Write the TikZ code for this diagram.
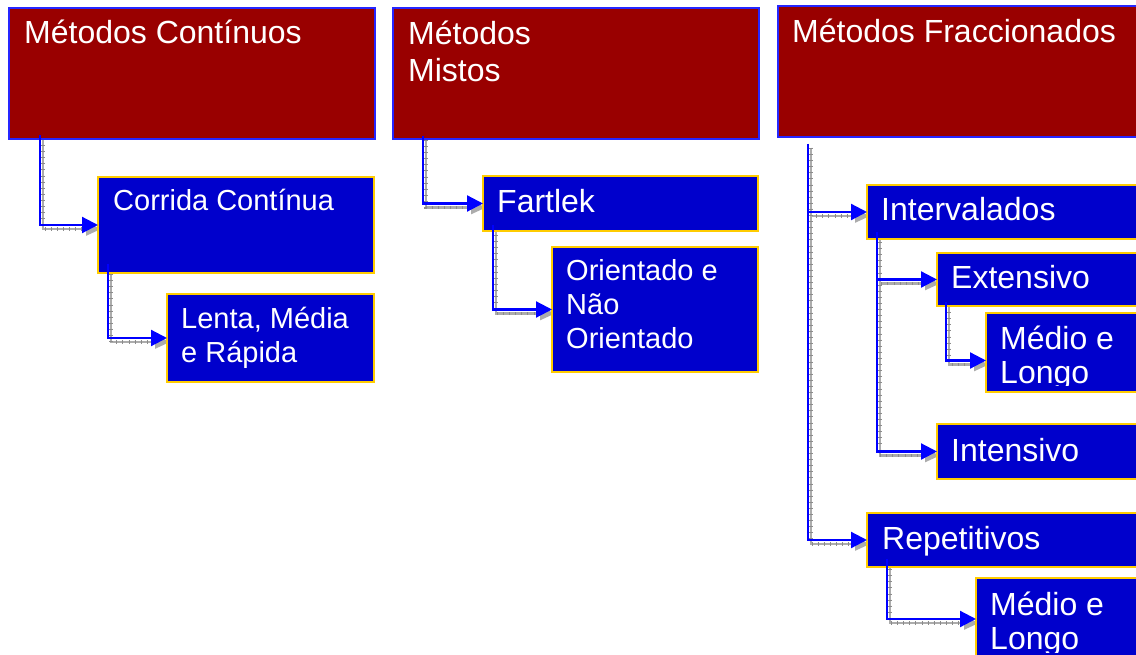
\documentclass[tikz,border=0pt]{standalone}
\usepackage{fontspec}
\setmainfont{Liberation Sans}
\usetikzlibrary{arrows.meta}
\definecolor{boxred}{HTML}{990000}
\definecolor{boxblue}{HTML}{0000CC}
\definecolor{gold}{HTML}{FFCC00}
\definecolor{edgeblue}{HTML}{2626FF}
\definecolor{linkblue}{HTML}{0000FF}
\pgfdeclarelayer{background}
\pgfsetlayers{background,main}

% elbow connector with a grey drop shadow underneath
\newcommand\linkbox[2]{%
  \begin{pgfonlayer}{background}
    \draw[shadowlink] (#1) |- (#2);
    \draw[shadowticks] (#1) |- (#2);
  \end{pgfonlayer}
  \draw[link] (#1) |- (#2);
}

\begin{document}
\begin{tikzpicture}[x=1pt,y=-1pt,
  headbox/.style={draw=edgeblue, fill=boxred, line width=2pt, anchor=north west,
                  inner sep=0pt, outer sep=0pt},
  itembox/.style={draw=gold, fill=boxblue, line width=2.2pt, anchor=north west,
                  inner sep=0pt, outer sep=0pt},
  lbl/.style={text=white, anchor=base west, inner sep=0pt},
  big/.style={font=\fontsize{32}{37}\selectfont},
  mid/.style={font=\fontsize{32}{34.5}\selectfont},
  small/.style={font=\fontsize{29}{34.5}\selectfont},
  link/.style={draw=linkblue, line width=2.2pt,
               -{Triangle[length=16pt,width=16pt]}},
  shadowlink/.style={draw=gray!65, line width=2.4pt,
               -{Triangle[length=15pt,width=13pt]},
               transform canvas={shift={(3pt,-4pt)}}},
  shadowticks/.style={draw=black!45, line width=3.2pt, dash pattern=on 0.6pt off 5.5pt,
               shorten >=15pt, transform canvas={shift={(3pt,-4pt)}}},
]
\useasboundingbox (0,0) rectangle (1136,655);
\clip (0,0) rectangle (1136,655);
\begin{pgfonlayer}{background}
  \fill[white] (0,0) rectangle (1136,655);
\end{pgfonlayer}

% top-level headings
\node[headbox, minimum width=366pt, minimum height=131pt] (mc) at (9,8) {};
\node[headbox, minimum width=366pt, minimum height=131pt] (mm) at (393,8) {};
\node[headbox, minimum width=372pt, minimum height=131pt] (mf) at (778,6) {};

% first column
\node[itembox, minimum width=276pt, minimum height=96pt] (corrida) at (98,177) {};
\node[itembox, minimum width=207pt, minimum height=88pt] (lenta) at (167,294) {};

% second column
\node[itembox, minimum width=275pt, minimum height=55pt] (fartlek) at (483,176) {};
\node[itembox, minimum width=206pt, minimum height=125pt] (orient) at (552,247) {};

% third column
\node[itembox, minimum width=280pt, minimum height=54pt] (interv) at (867,185) {};
\node[itembox, minimum width=210pt, minimum height=53pt] (extens) at (937,253) {};
\node[itembox, minimum width=160pt, minimum height=79pt] (medioA) at (986,313) {};
\node[itembox, minimum width=210pt, minimum height=55pt] (intens) at (937,424) {};
\node[itembox, minimum width=280pt, minimum height=54pt] (repet) at (867,513) {};
\node[itembox, minimum width=170pt, minimum height=82pt] (medioB) at (976,578) {};

% labels
\node[lbl, big] (mc-t) at (24,44) {Métodos Contínuos};
\node[lbl, big] (mm-t) at (408,45) {\begin{tabular}[t]{@{}l@{}}Métodos\\Mistos\end{tabular}};
\node[lbl, big] (mf-t) at (792,43) {Métodos Fraccionados};
\node[lbl, small] (corrida-t) at (113,211) {Corrida Contínua};
\node[lbl, small] (lenta-t) at (181,328) {\begin{tabular}[t]{@{}l@{}}Lenta, Média\\e Rápida\end{tabular}};
\node[lbl, big] (fartlek-t) at (497,213) {Fartlek};
\node[lbl, small] (orient-t) at (566,280) {\begin{tabular}[t]{@{}l@{}}Orientado e\\Não\\Orientado\end{tabular}};
\node[lbl, big] (interv-t) at (881,221) {Intervalados};
\node[lbl, big] (extens-t) at (951,289) {Extensivo};
% the text frame of the lower boxes cuts off the second line
\begin{scope}
  \clip (medioA.north west) rectangle ([yshift=7pt]medioA.south east);
  \node[lbl, mid] (medioA-t) at (1000,349) {\begin{tabular}[t]{@{}l@{}}Médio e\\Longo\end{tabular}};
\end{scope}
\node[lbl, big] (intens-t) at (951,461) {Intensivo};
\node[lbl, big] (repet-t) at (882,549) {Repetitivos};
\begin{scope}
  \clip (medioB.north west) rectangle ([yshift=8pt]medioB.south east);
  \node[lbl, mid] (medioB-t) at (990,615) {\begin{tabular}[t]{@{}l@{}}Médio e\\Longo\end{tabular}};
\end{scope}

% connectors
\linkbox{[xshift=31pt,yshift=4pt]mc.south west}{corrida.west}
\linkbox{[xshift=10pt,yshift=9pt]corrida.south west}{lenta.west}
\linkbox{[xshift=30pt,yshift=3pt]mm.south west}{fartlek.west}
\linkbox{[xshift=10pt,yshift=6pt]fartlek.south west}{orient.west}
\linkbox{[xshift=30pt,yshift=-7pt]mf.south west}{interv.west}
\linkbox{[xshift=30pt,yshift=-7pt]mf.south west}{repet.west}
\linkbox{[xshift=10pt,yshift=7pt]interv.south west}{extens.west}
\linkbox{[xshift=10pt,yshift=7pt]interv.south west}{intens.west}
\linkbox{[xshift=9pt,yshift=4pt]extens.south west}{[yshift=-8pt]medioA.west}
\linkbox{[xshift=20pt,yshift=8pt]repet.south west}{medioB.west}
\end{tikzpicture}
\end{document}
